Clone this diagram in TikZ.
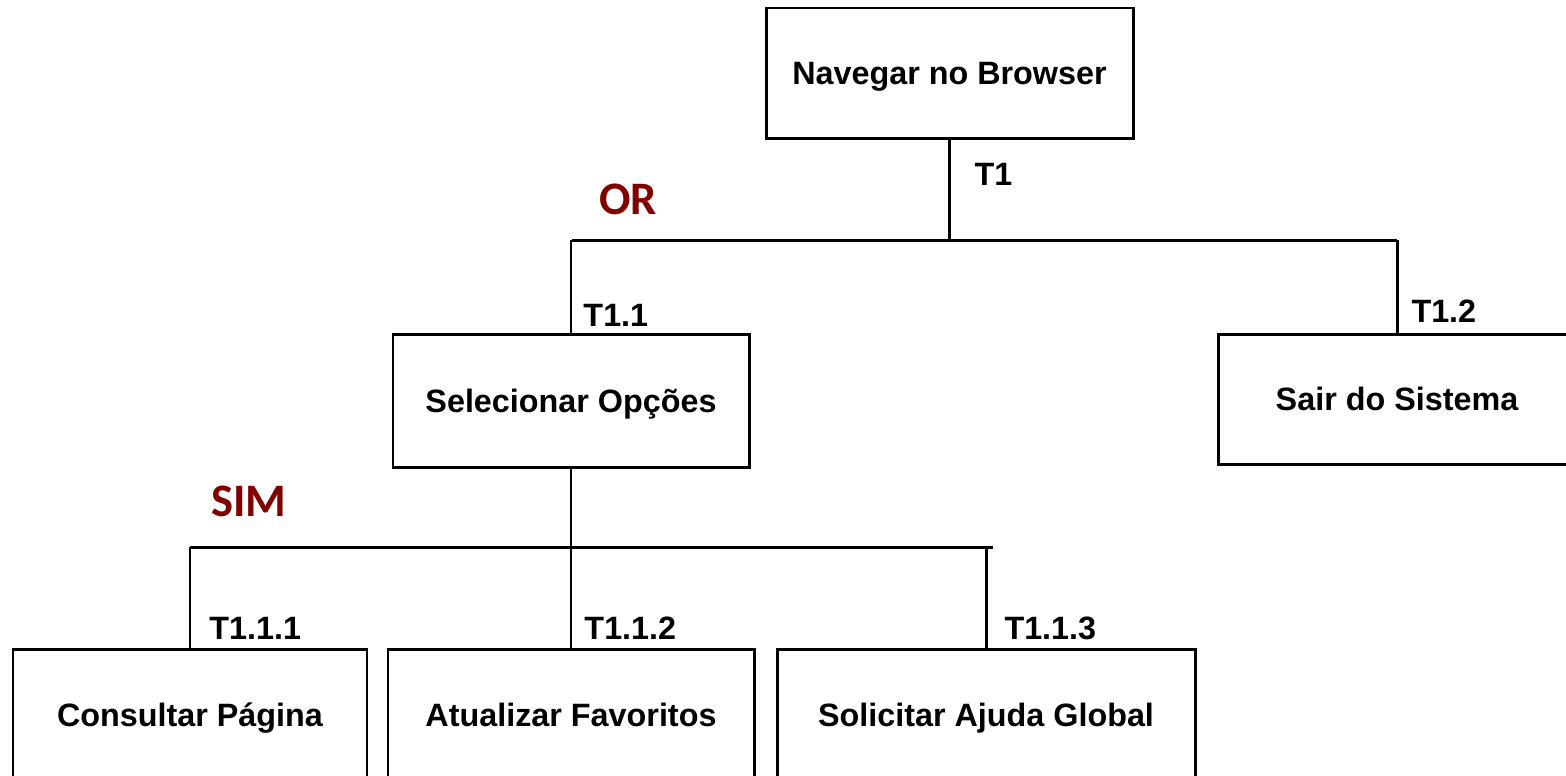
\documentclass[tikz,border=0pt]{standalone}
\usepackage{fontspec}
\setmainfont{Liberation Sans}
\newfontfamily\opfont{Carlito}
\definecolor{opred}{HTML}{800000}
\tikzset{
  task/.style={draw,line width=1.7pt,minimum height=130*0.02cm,inner sep=0pt,text height=13.2pt,text depth=0pt,font=\fontsize{18.4}{22}\selectfont\bfseries},
  tlbl/.style={anchor=west,inner sep=0pt,font=\fontsize{18.4}{22}\selectfont\bfseries},
  oplbl/.style={inner sep=0pt,text=opred,font=\opfont\fontsize{26.5}{30}\selectfont\bfseries}
}
\begin{document}
\begin{tikzpicture}[x=0.02cm,y=-0.02cm,line width=1.7pt]
        \useasboundingbox (0,0) rectangle (1566,775);
        \clip (0,0) rectangle (1566,775);
        % tasks
        \node[task,minimum width=367*0.02cm] (nav) at (949.5,73) {Navegar no Browser};
        \node[task,minimum width=356*0.02cm,minimum height=133*0.02cm] (sel) at (571,400.5) {Selecionar Opções};
        \node[task,minimum width=358*0.02cm] (sair) at (1397,399) {Sair do Sistema};
        \node[task,minimum width=354*0.02cm,minimum height=132*0.02cm] (cons) at (190,715) {Consultar Página};
        \node[task,minimum width=366*0.02cm,minimum height=132*0.02cm] (atu) at (571,715) {Atualizar Favoritos};
        \node[task,minimum width=418*0.02cm,minimum height=132*0.02cm] (sol) at (986,715) {Solicitar Ajuda Global};
        % bars
        \coordinate (orL) at (572,240); \coordinate (orR) at (1397,240);
        \coordinate (simL) at (190,547); \coordinate (simR) at (993,547);
        \draw (orL) -- (orR); \draw (simL) -- (simR);
        \draw (nav.south) -- (nav.south |- orL);
        \draw (sel.north) -- (sel.north |- orL); \draw (sair.north) -- (sair.north |- orR);
        \draw (sel.south) -- (atu.north);
        \draw (cons.north) -- (cons.north |- simL); \draw (sol.north) -- (sol.north |- simL);
        % labels
        \node[oplbl] (or) at (628,199) {OR};
        \node[oplbl] (sim) at (249,501) {SIM};
        \node[tlbl] (t1) at (973,174) {T1};
        \node[tlbl] (t11) at (582,315) {T1.1};
        \node[tlbl] (t12) at (1410,311) {T1.2};
        \node[tlbl] (t111) at (208,628) {T1.1.1};
        \node[tlbl] (t112) at (583,628) {T1.1.2};
        \node[tlbl] (t113) at (1003,628) {T1.1.3};
    \end{tikzpicture}
\end{document}
